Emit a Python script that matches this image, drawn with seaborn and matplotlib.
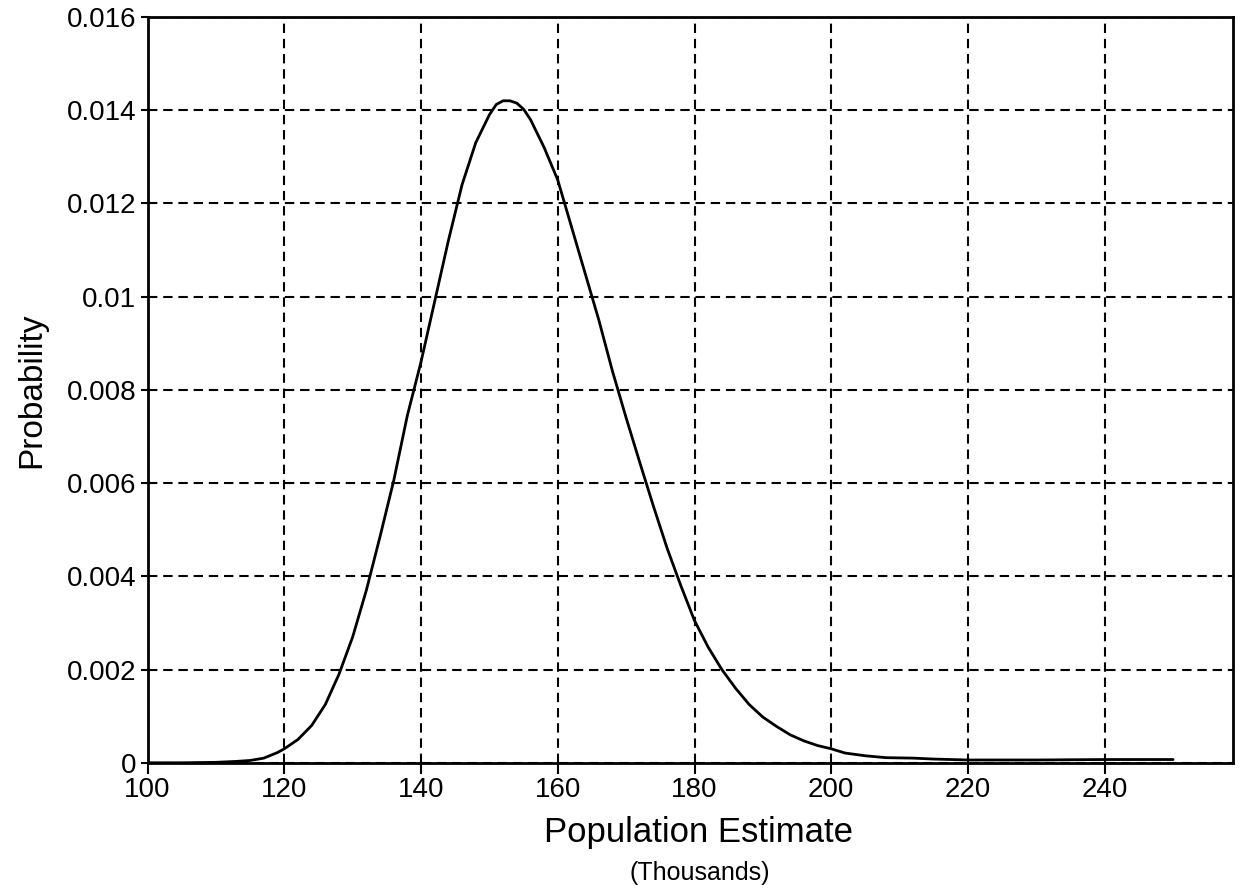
import matplotlib
matplotlib.use("Agg")
import matplotlib.pyplot as plt
import seaborn as sns
import pandas as pd

# Data
population = [100, 105, 110, 113, 115, 117, 119, 120, 122, 124, 126, 128, 130,
              132, 134, 136, 138, 140, 142, 144, 146, 148, 150, 151, 152, 153,
              154, 155, 156, 158, 160, 162, 164, 166, 168, 170, 172, 174, 176,
              178, 180, 182, 184, 186, 188, 190, 192, 194, 196, 198, 200, 202,
              205, 208, 212, 215, 220, 230, 240, 250]
probability = [0.0, 0.0, 0.00001, 0.00003, 0.00005, 0.0001, 0.00022, 0.0003,
               0.0005, 0.0008, 0.00125, 0.0019, 0.0027, 0.0037, 0.00485,
               0.00605, 0.00745, 0.0086, 0.0099, 0.0112, 0.0124, 0.0133,
               0.0139, 0.01412, 0.0142, 0.0142, 0.01415, 0.01402, 0.0138,
               0.0132, 0.0125, 0.0115, 0.0105, 0.0095, 0.0084, 0.0074,
               0.00644, 0.0055, 0.0046, 0.0038, 0.00305, 0.00248, 0.0020,
               0.0016, 0.00125, 0.00098, 0.00078, 0.0006, 0.00047, 0.00037,
               0.0003, 0.00021, 0.00015, 0.00011, 0.0001, 0.00008, 0.00006,
               0.00006, 0.00007, 0.00007]
x_ticks = [100, 120, 140, 160, 180, 200, 220, 240]
y_ticks = [0, 0.002, 0.004, 0.006, 0.008, 0.01, 0.012, 0.014, 0.016]
y_tick_labels = ["0", "0.002", "0.004", "0.006", "0.008", "0.01", "0.012",
                 "0.014", "0.016"]

df = pd.DataFrame({"Population": population, "Probability": probability})

sns.set_style("white")
plt.rcParams["font.family"] = ["Liberation Sans", "DejaVu Sans"]
plt.rcParams["text.color"] = "black"
plt.rcParams["axes.labelcolor"] = "black"

fig = plt.figure(figsize=(12.4, 8.88), dpi=100)
ax = fig.add_axes([0.119, 0.141, 0.875, 0.840])

sns.lineplot(data=df, x="Population", y="Probability", ax=ax,
             color="black", linewidth=2.0, zorder=3)

ax.set_xlim(100, 258.7)
ax.set_ylim(0, 0.016)
ax.set_xticks(x_ticks)
ax.set_xticklabels([str(t) for t in x_ticks])
ax.set_yticks(y_ticks)
ax.set_yticklabels(y_tick_labels)

ax.grid(True, color="black", linestyle=(0, (4.5, 2.8)), linewidth=1.5, zorder=1)
for s in ax.spines.values():
    s.set_visible(True)
    s.set_color("black")
    s.set_linewidth(2.0)

ax.tick_params(axis="both", which="major", labelsize=20, colors="black",
               labelcolor="black", direction="out", width=1.5)
ax.tick_params(axis="x", length=8, pad=2)
ax.tick_params(axis="y", length=5, pad=3)
ax.tick_params(left=True, bottom=True)

ax.set_xlabel("")
ax.set_ylabel("Probability", fontsize=24, labelpad=14, color="black")
fig.text(0.563, 0.062, "Population Estimate", fontsize=25, ha="center",
         va="center", color="black")
fig.text(0.564, 0.017, "(Thousands)", fontsize=18, ha="center", va="center",
         color="black")

fig.savefig("out.png", dpi=100, facecolor="white")
